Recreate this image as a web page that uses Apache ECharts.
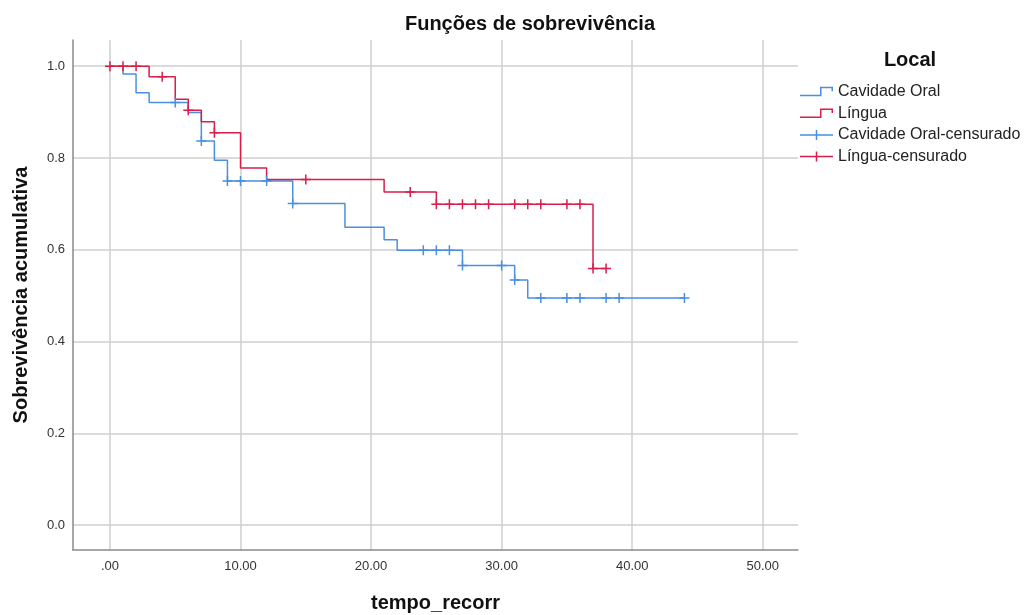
<!DOCTYPE html>
<html>
<head>
<meta charset="utf-8">
<title>Funções de sobrevivência</title>
<script src="https://cdn.jsdelivr.net/npm/echarts@6/dist/echarts.min.js"></script>
<style>
  html, body { margin: 0; padding: 0; background: #fff; }
  #chart { width: 1027px; height: 615px; }
</style>
</head>
<body>
<div id="chart"></div>
<script>
// Cavidade Oral - estimativas (tempo, sobrevivência)
const oralTimes = [0, 1, 2, 3, 6, 7, 8, 9, 14, 18, 21, 22, 27, 31, 32, 44]
const oralSurv = [1, 0.983, 0.942, 0.921, 0.899, 0.837, 0.795, 0.750, 0.701, 0.649, 0.622, 0.599, 0.566, 0.534, 0.495, 0.495]
// Cavidade Oral - censurados
const oralCensTimes = [5, 7, 9, 10, 12, 14, 24, 25, 26, 27, 30, 31, 33, 35, 36, 38, 39, 44]
const oralCensSurv = [0.921, 0.837, 0.750, 0.750, 0.750, 0.701, 0.599, 0.599, 0.599, 0.566, 0.566, 0.534, 0.495, 0.495, 0.495, 0.495, 0.495, 0.495]

// Língua - estimativas
const linguaTimes = [0, 3, 5, 6, 7, 8, 10, 12, 21, 25, 37, 38]
const linguaSurv = [1, 0.977, 0.928, 0.904, 0.879, 0.855, 0.778, 0.753, 0.726, 0.699, 0.559, 0.559]
// Língua - censurados
const linguaCensTimes = [0, 1, 2, 4, 6, 8, 15, 23, 25, 26, 27, 28, 29, 31, 32, 33, 35, 36, 37, 38]
const linguaCensSurv = [1, 1, 1, 0.977, 0.904, 0.855, 0.753, 0.726, 0.699, 0.699, 0.699, 0.699, 0.699, 0.699, 0.699, 0.699, 0.699, 0.699, 0.559, 0.559]

const xTickLabels = ['.00', '10.00', '20.00', '30.00', '40.00', '50.00']

const fontFamily = '"Liberation Sans", Arial, sans-serif'
const blue = '#4a8fe0'
const red = '#d81e4b'

// símbolo "+"
const plusPath = 'path://M0,4.25 H4.25 V0 H5.75 V4.25 H10 V5.75 H5.75 V10 H4.25 V5.75 H0 Z'
// ícones da legenda
const stepIcon = 'path://M0,8.5 H20 V0.5 H33 V5 H31.5 V2 H21.5 V10 H0 Z'
const crossIcon = 'path://M0,4.25 H15.75 V0 H17.25 V4.25 H33 V5.75 H17.25 V10 H15.75 V5.75 H0 Z'

const zip = (a, b) => a.map((v, i) => [v, b[i]])

const chart = echarts.init(document.getElementById('chart'))

const option = {
    backgroundColor: '#fff',
    animation: false,
    textStyle: { fontFamily },
    title: [
        {
            text: 'Funções de sobrevivência',
            left: 530,
            top: 14,
            padding: 0,
            textAlign: 'center',
            textStyle: { fontSize: 20, fontWeight: 'bold', color: '#111', fontFamily }
        },
        {
            text: 'Local',
            left: 910,
            top: 50,
            padding: 0,
            textAlign: 'center',
            textStyle: { fontSize: 20, fontWeight: 'bold', color: '#111', fontFamily }
        }
    ],
    legend: {
        orient: 'vertical',
        left: 800,
        top: 83.5,
        padding: 0,
        itemWidth: 33,
        itemHeight: 10,
        itemGap: 5.7,
        textStyle: { fontSize: 16, color: '#222', fontFamily },
        data: [
            { name: 'Cavidade Oral', icon: stepIcon, itemStyle: { color: blue } },
            { name: 'Língua', icon: stepIcon, itemStyle: { color: red } },
            { name: 'Cavidade Oral-censurado', icon: crossIcon, itemStyle: { color: blue } },
            { name: 'Língua-censurado', icon: crossIcon, itemStyle: { color: red } }
        ]
    },
    grid: {
        left: 73,
        right: 229,
        top: 40,
        bottom: 65,
        containLabel: false,
        outerBoundsMode: 'none'
    },
    xAxis: {
        type: 'value',
        min: -2.83,
        max: 52.7,
        splitNumber: 5,
        name: 'tempo_recorr',
        nameLocation: 'middle',
        nameGap: 43,
        nameTextStyle: { fontSize: 20, fontWeight: 'bold', color: '#111', fontFamily },
        axisLine: { show: true, onZero: false, lineStyle: { color: '#8a8a8a', width: 1.5 } },
        axisTick: { show: false },
        axisLabel: {
            color: '#333',
            fontSize: 13,
            margin: 10,
            showMinLabel: false,
            showMaxLabel: false,
            formatter: v => xTickLabels[Math.round(v / 10)] || ''
        },
        splitLine: {
            show: true,
            showMinLine: false,
            showMaxLine: false,
            lineStyle: { color: '#cfcfcf', width: 1.5 }
        }
    },
    yAxis: {
        type: 'value',
        min: -0.054,
        max: 1.057,
        splitNumber: 5,
        name: 'Sobrevivência acumulativa',
        nameLocation: 'middle',
        nameGap: 42,
        nameTextStyle: { fontSize: 20, fontWeight: 'bold', color: '#111', fontFamily },
        axisLine: { show: true, onZero: false, lineStyle: { color: '#8a8a8a', width: 1.5 } },
        axisTick: { show: false },
        axisLabel: {
            color: '#333',
            fontSize: 13,
            margin: 8,
            showMinLabel: false,
            showMaxLabel: false,
            formatter: v => v.toFixed(1)
        },
        splitLine: {
            show: true,
            showMinLine: false,
            showMaxLine: false,
            lineStyle: { color: '#cfcfcf', width: 1.5 }
        }
    },
    series: [
        {
            name: 'Cavidade Oral',
            type: 'line',
            step: 'end',
            showSymbol: false,
            data: zip(oralTimes, oralSurv),
            lineStyle: { color: blue, width: 1.5 },
            itemStyle: { color: blue },
            z: 2
        },
        {
            name: 'Língua',
            type: 'line',
            step: 'end',
            showSymbol: false,
            data: zip(linguaTimes, linguaSurv),
            lineStyle: { color: red, width: 1.5 },
            itemStyle: { color: red },
            z: 3
        },
        {
            name: 'Cavidade Oral-censurado',
            type: 'scatter',
            symbol: plusPath,
            symbolSize: 10,
            data: zip(oralCensTimes, oralCensSurv),
            itemStyle: { color: blue, opacity: 1 },
            z: 4
        },
        {
            name: 'Língua-censurado',
            type: 'scatter',
            symbol: plusPath,
            symbolSize: 10,
            data: zip(linguaCensTimes, linguaCensSurv),
            itemStyle: { color: red, opacity: 1 },
            z: 5
        }
    ]
}

chart.setOption(option)
</script>
</body>
</html>
